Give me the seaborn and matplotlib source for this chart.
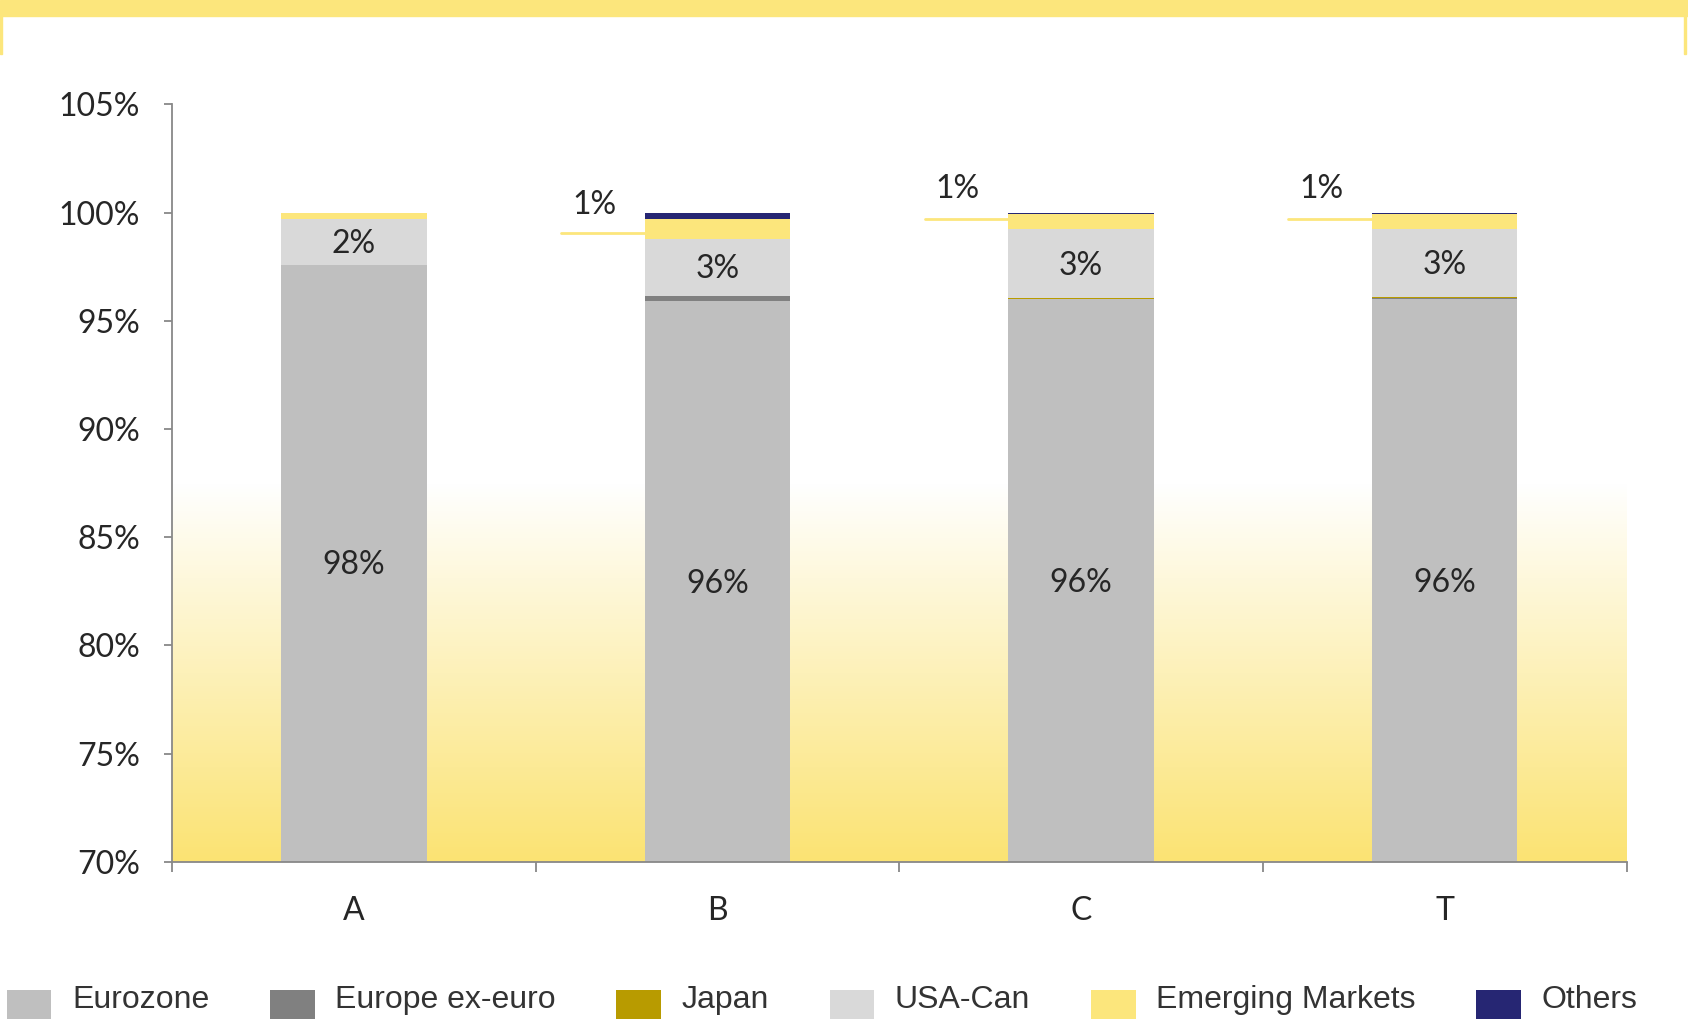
import numpy as np
import pandas as pd
import matplotlib
matplotlib.use("Agg")
import matplotlib.pyplot as plt
from matplotlib.patches import Patch, Rectangle
from matplotlib.legend_handler import HandlerPatch
from matplotlib.colors import LinearSegmentedColormap
import seaborn as sns

# data (% of portfolio by region)
funds = ["A", "B", "C", "T"]
eurozone = [97.6, 95.9, 96.0, 96.0]
europe_ex_euro = [0.0, 0.25, 0.0, 0.05]
japan = [0.0, 0.0, 0.05, 0.03]
usa_can = [2.1, 2.65, 3.2, 3.17]
emerging = [0.3, 0.9, 0.7, 0.7]
others = [0.0, 0.3, 0.05, 0.05]

regions = ["Eurozone", "Europe ex-euro", "Japan", "USA-Can", "Emerging Markets", "Others"]
colors = ["#BFBFBF", "#808080", "#B89B00", "#D9D9D9", "#FCE67C", "#262673"]

sns.set_style("white")
plt.rcParams["font.family"] = ["Lato", "DejaVu Sans"]

df = pd.DataFrame({"fund": funds, "Eurozone": eurozone, "Europe ex-euro": europe_ex_euro,
                   "Japan": japan, "USA-Can": usa_can, "Emerging Markets": emerging,
                   "Others": others})
cum = df[regions].cumsum(axis=1)

fig = plt.figure(figsize=(16.88, 10.19), dpi=100)
ax = fig.add_axes([0.102, 0.1543, 0.8616, 0.7432])

# background gradient in plot area
grad = np.linspace(70, 105, 400)
alpha = np.clip((87.5 - grad) / 17.5, 0, 1)
cmap = LinearSegmentedColormap.from_list("bg", ["#FFFFFF", "#FBE373"])
ax.imshow(alpha[:, None], cmap=cmap, vmin=0, vmax=1, origin="lower", aspect="auto",
          extent=[-0.5, 3.5, 70, 105], zorder=0, interpolation="bilinear")

# stacked bars: draw cumulative totals from top layer down
for reg, col in reversed(list(zip(regions, colors))):
    sns.barplot(x=df["fund"], y=cum[reg], color=col, width=0.4, ax=ax,
                saturation=1, linewidth=0, zorder=2)

ax.set_xlim(-0.5, 3.5)
ax.set_ylim(70, 105)
ax.set_yticks(np.arange(70, 106, 5))
ax.set_yticklabels([f"{v}%" for v in range(70, 106, 5)])
ax.set_xticks(range(4))
ax.set_xticklabels(funds)
ax.set_xticks(np.arange(-0.5, 3.6, 1), minor=True)
ax.tick_params(axis="x", which="major", length=0, pad=25, labelsize=23)
ax.tick_params(axis="x", which="minor", length=7, color="#888888", width=1.3, direction="out", bottom=True)
ax.tick_params(axis="y", length=6, color="#888888", width=1.3, direction="out", left=True,
               labelsize=23, pad=17)
ax.set_xlabel("")
ax.set_ylabel("")
for s in ["top", "right"]:
    ax.spines[s].set_visible(False)
for s in ["left", "bottom"]:
    ax.spines[s].set_color("#888888")
    ax.spines[s].set_linewidth(1.3)
ax.set_facecolor("none")

# value labels
for i, f in enumerate(funds):
    ax.text(i, (70 + eurozone[i]) / 2 - 0.1, f"{eurozone[i]:.0f}%", ha="center", va="center", fontsize=23, zorder=3)
    us_lo = cum["Japan"][i]
    ax.text(i, us_lo + usa_can[i] / 2 - 0.1, f"{usa_can[i]:.0f}%", ha="center", va="center", fontsize=23, zorder=3)
    if emerging[i] >= 0.5:
        ly = cum["USA-Can"][i] + emerging[i] / 2 - (0.2 if i == 1 else -0.1)
        ax.plot([i - 0.43, i - 0.2], [ly, ly], color="#FCE67C", lw=2, zorder=3, clip_on=False)
        ax.text(i - 0.34, ly + (1.3 if i == 1 else 1.4), f"{emerging[i]:.0f}%", ha="center", va="center",
                fontsize=23, zorder=3)

# decorative top frame
fig.patches.append(Rectangle((0, 0.984), 1, 0.016, transform=fig.transFigure, color="#FCE67C", zorder=0))
fig.patches.append(Rectangle((0, 0.947), 0.0012, 0.04, transform=fig.transFigure, color="#FCE67C", zorder=0))
fig.patches.append(Rectangle((0.9975, 0.947), 0.0012, 0.04, transform=fig.transFigure, color="#FCE67C", zorder=0))


def low_square(legend, orig_handle, xdescent, ydescent, width, height, fontsize):
    return Rectangle((-xdescent, -ydescent - 7.5), width, height)


handles = [Patch(facecolor=c, edgecolor="none", label=r) for r, c in zip(regions, colors)]
leg = fig.legend(handles=handles, loc="center left", bbox_to_anchor=(0.004, 0.021), ncol=6,
                 frameon=False, handlelength=1.4, handleheight=1.35, handletextpad=0.64,
                 columnspacing=1.9, borderpad=0, borderaxespad=0,
                 handler_map={Patch: HandlerPatch(patch_func=low_square)},
                 prop={"family": ["Liberation Sans", "DejaVu Sans"], "size": 23})
for t in leg.get_texts():
    t.set_color("#333333")

fig.savefig("out.png", dpi=100)
